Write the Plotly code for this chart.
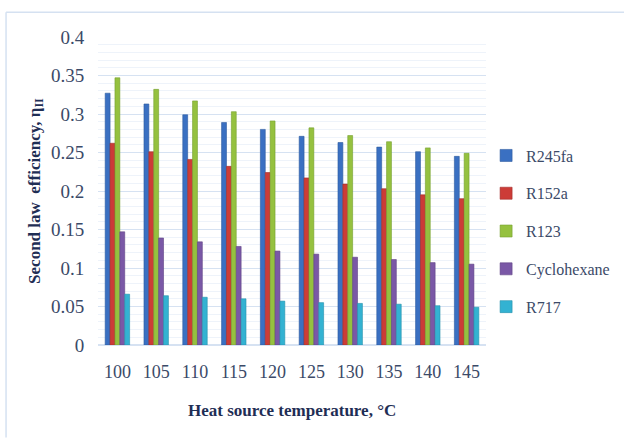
import plotly.graph_objects as go

temperatures = ["100", "105", "110", "115", "120", "125", "130", "135", "140", "145"]
r245fa = [0.327, 0.313, 0.299, 0.289, 0.280, 0.271, 0.263, 0.257, 0.251, 0.245]
r152a = [0.262, 0.251, 0.241, 0.232, 0.224, 0.217, 0.209, 0.203, 0.195, 0.190]
r123 = [0.347, 0.332, 0.317, 0.303, 0.291, 0.282, 0.272, 0.264, 0.256, 0.249]
cyclohexane = [0.147, 0.139, 0.134, 0.128, 0.122, 0.118, 0.114, 0.111, 0.107, 0.105]
r717 = [0.066, 0.064, 0.062, 0.060, 0.057, 0.055, 0.054, 0.053, 0.051, 0.049]

series = [
    ("R245fa", r245fa, "#3a70c2", "#2d5a9e"),
    ("R152a", r152a, "#cc3c37", "#a32e2a"),
    ("R123", r123, "#95c13f", "#76a02f"),
    ("Cyclohexane", cyclohexane, "#7a58a6", "#5f4385"),
    ("R717", r717, "#33b2d2", "#2590ab"),
]

fig = go.Figure()
for i, (name, vals, col, edge) in enumerate(series):
    fig.add_trace(go.Bar(
        x=temperatures, y=vals, name=name, legendgroup=name,
        marker=dict(color=col, line=dict(color=edge, width=0.6)),
    ))

font_family = "Liberation Serif"
tick_col = "#3b4a68"
title_col = "#1f2e55"

fig.update_layout(
    width=624, height=444,
    margin=dict(l=98, r=138, t=37, b=99, autoexpand=False),
    paper_bgcolor="white", plot_bgcolor="white",
    barmode="group", bargap=0.37, bargroupgap=0,
    font=dict(family=font_family, color=tick_col),
    showlegend=True,
    legend=dict(
        xref="container", yref="container",
        x=0.779, y=0.688, xanchor="left", yanchor="top",
        font=dict(family=font_family, size=16, color=tick_col),
        tracegroupgap=14, traceorder="grouped",
        itemwidth=30,
    ),
    xaxis=dict(
        type="category", showgrid=False, showline=False, zeroline=False,
        ticks="outside", ticklen=10, tickcolor="rgba(0,0,0,0)",
        tickfont=dict(family=font_family, size=18, color=tick_col),
    ),
    yaxis=dict(
        range=[0, 0.4], dtick=0.05, tickformat="~g",
        showgrid=True, gridcolor="#d6e2f2", gridwidth=1.2,
        minor=dict(dtick=0.01, showgrid=True, gridcolor="#eef3fa", gridwidth=1),
        zeroline=True, zerolinecolor="#d6e2f2", zerolinewidth=1.5,
        showline=False,
        ticks="outside", ticklen=9, tickcolor="rgba(0,0,0,0)",
        tickfont=dict(family=font_family, size=19, color=tick_col),
    ),
    annotations=[
        dict(text="<b>Second law  efficiency, η<sub>II</sub></b>", textangle=-90,
             xref="paper", yref="paper", x=-0.16, y=0.50,
             xanchor="center", yanchor="middle", showarrow=False,
             font=dict(family=font_family, size=17, color=title_col)),
        dict(text="<b>Heat source temperature, °C</b>",
             xref="paper", yref="paper", x=0.5, y=-0.212,
             xanchor="center", yanchor="middle", showarrow=False,
             font=dict(family=font_family, size=17, color=title_col)),
    ],
    shapes=[
        dict(type="line", xref="paper", yref="paper",
             x0=-0.237, x1=-0.237, y0=-0.3, y1=1.08,
             line=dict(color="#d5e1f1", width=1.5)),
        dict(type="line", xref="paper", yref="paper",
             x0=-0.237, x1=1.4, y0=1.08, y1=1.08,
             line=dict(color="#d5e1f1", width=1.5)),
    ],
)

fig.write_html("out.html", config={"displayModeBar": False},
               post_script="document.body.style.margin='0';")
